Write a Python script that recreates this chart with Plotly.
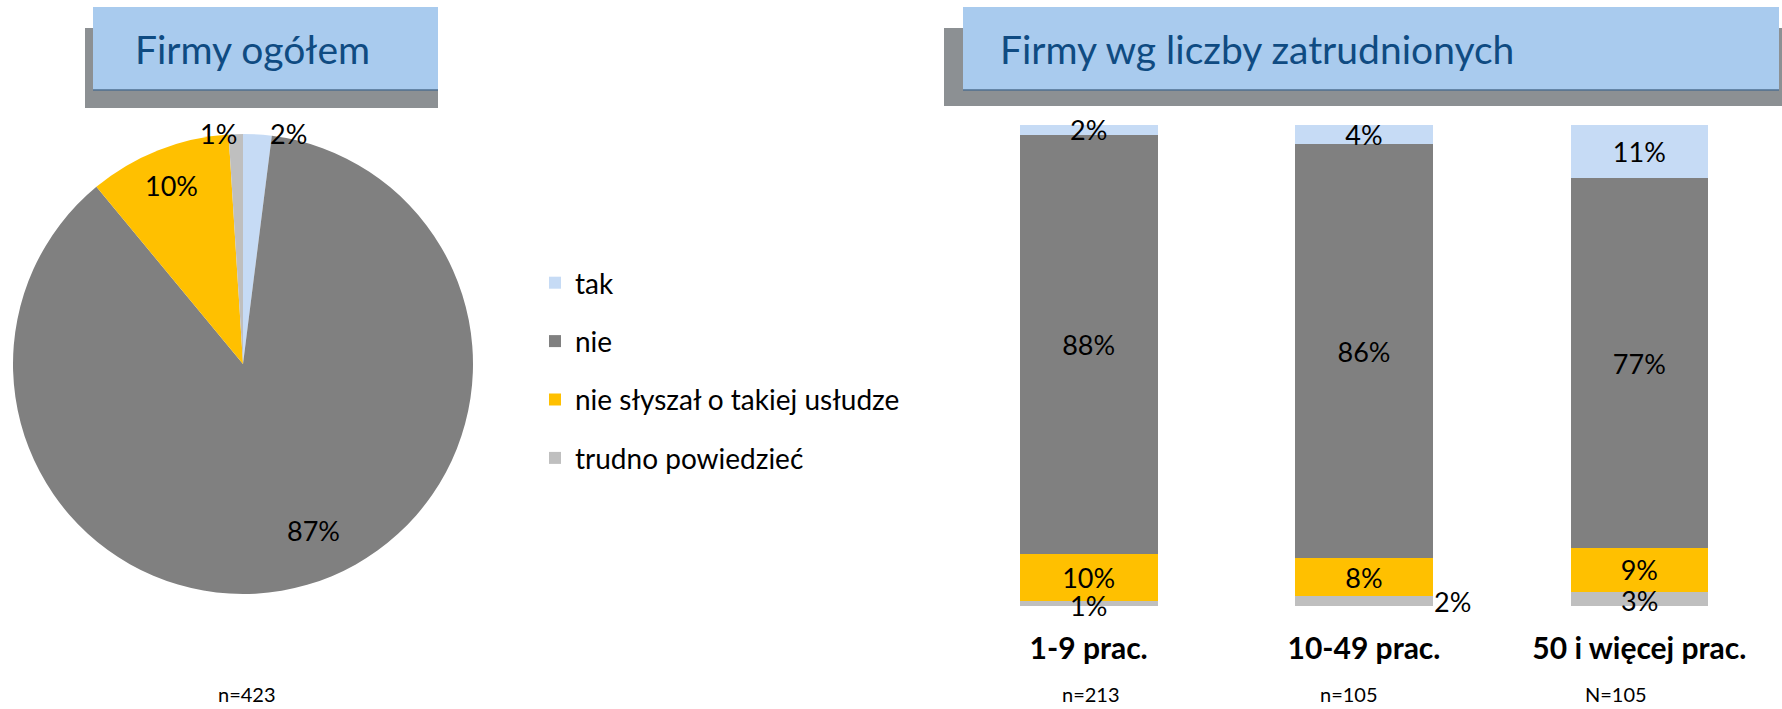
import plotly.graph_objects as go

W, H = 1782, 709
FONT = "Lato, 'Open Sans', 'DejaVu Sans', sans-serif"

# Answer categories and their colours
series = ["tak", "nie", "nie słyszał o takiej usłudze", "trudno powiedzieć"]
colors = ["#C6DBF5", "#808080", "#FFC000", "#BFBFBF"]

# All firms
overall = [2, 87, 10, 1]
overall_n = "n=423"

# Firms by number of employees
size_groups = ["1-9 prac.", "10-49 prac.", "50 i więcej prac."]
size_n = ["n=213", "n=105", "N=105"]
tak = [2, 4, 11]
nie = [88, 86, 77]
nie_slyszal = [10, 8, 9]
trudno = [1, 2, 3]


def px(x):
    return x / W


def py(y):
    return 1 - y / H


fig = go.Figure()

# ---- pie: all firms ----
PIE_X = (13, 473)
PIE_Y = (134, 594)
fig.add_trace(go.Pie(
    labels=series,
    values=overall,
    sort=False,
    direction="clockwise",
    rotation=0,
    marker=dict(colors=colors, line=dict(width=0)),
    textinfo="none",
    domain=dict(x=[px(PIE_X[0]), px(PIE_X[1])], y=[py(PIE_Y[1]), py(PIE_Y[0])]),
    showlegend=False,
    hoverinfo="label+percent",
))

annotations = []
label_font = dict(family=FONT, size=27, color="black")

# pie value labels, placed per slice (pixel positions)
pie_label_pos = [(288, 133), (313, 530), (171, 185), (218, 133)]
for v, (lx, ly) in zip(overall, pie_label_pos):
    annotations.append(dict(x=px(lx), y=py(ly), xref="paper", yref="paper",
                            text=f"{v}%", showarrow=False,
                            xanchor="center", yanchor="middle", font=label_font))

# ---- stacked 100% bars: firms by size ----
by_series = {
    "tak": tak,
    "nie": nie,
    "nie słyszał o takiej usłudze": nie_slyszal,
    "trudno powiedzieć": trudno,
}
totals = [sum(v[i] for v in by_series.values()) for i in range(len(size_groups))]

for name in reversed(series):
    vals = by_series[name]
    col = colors[series.index(name)]
    on_bar = name != "trudno powiedzieć"
    fig.add_trace(go.Bar(
        x=size_groups,
        y=vals,
        name=name,
        legendgroup=name,
        legendrank=series.index(name) + 1,
        marker=dict(color=col, line=dict(width=0)),
        text=[f"{v}%" for v in vals],
        texttemplate="%{text}",
        textposition="inside" if on_bar else "none",
        insidetextanchor="middle",
        constraintext="none",
        textfont=label_font,
        cliponaxis=False,
        hoverinfo="name+y",
    ))

# bottom segment labels drawn above the bars so they are not covered
name = "trudno powiedzieć"
for i, v in enumerate(by_series[name]):
    ymid = (v / 2) / totals[i] * 100
    outside = i == 1
    annotations.append(dict(
        x=size_groups[i], y=ymid, xref="x", yref="y",
        text=f"{v}%", showarrow=False,
        xanchor="left" if outside else "center", yanchor="middle",
        xshift=68 if outside else 0,
        yshift=0 if outside else -2,
        font=label_font,
    ))

# sample sizes
annotations.append(dict(x=px(247), y=py(694), xref="paper", yref="paper",
                        text=overall_n, showarrow=False, xanchor="center", yanchor="middle",
                        font=dict(family=FONT, size=20, color="black")))
for txt, xc in zip(size_n, [1091, 1349, 1616]):
    annotations.append(dict(x=px(xc), y=py(694), xref="paper", yref="paper",
                            text=txt, showarrow=False, xanchor="center", yanchor="middle",
                            font=dict(family=FONT, size=20, color="black")))

# panel titles
title_font = dict(family=FONT, size=39, color="#0F4B82")
annotations.append(dict(x=px(133), y=py(49), xref="paper", yref="paper",
                        text="Firmy ogółem", showarrow=False,
                        xanchor="left", yanchor="middle", font=title_font))
annotations.append(dict(x=px(998), y=py(49), xref="paper", yref="paper",
                        text="Firmy wg liczby zatrudnionych", showarrow=False,
                        xanchor="left", yanchor="middle", font=title_font))


def rect(x0, y0, x1, y1, color):
    return dict(type="rect", xref="paper", yref="paper",
                x0=px(x0), x1=px(x1), y0=py(y1), y1=py(y0),
                fillcolor=color, line=dict(width=0), layer="below")


def hline(x0, x1, y, color):
    return dict(type="line", xref="paper", yref="paper",
                x0=px(x0), x1=px(x1), y0=py(y), y1=py(y),
                line=dict(color=color, width=1.5), layer="below")


shapes = [
    rect(85, 28, 438, 108, "#8C9093"),
    rect(93, 7, 438, 90, "#A9CBEE"),
    hline(93, 438, 90, "#4F6F8F"),
    rect(944, 28, 1782, 106, "#8C9093"),
    rect(963, 7, 1779, 90, "#A9CBEE"),
    hline(963, 1779, 90, "#4F6F8F"),
]

fig.update_layout(
    width=W, height=H,
    margin=dict(l=0, r=0, t=0, b=0),
    paper_bgcolor="white",
    plot_bgcolor="white",
    barmode="stack",
    barnorm="percent",
    bargap=0.5,
    xaxis=dict(
        domain=[px(951), px(1777)],
        showgrid=False, zeroline=False, showline=False,
        ticks="", ticklabelstandoff=22,
        tickfont=dict(family=FONT, size=30, color="black", weight="bold"),
        automargin=False,
        fixedrange=True,
    ),
    yaxis=dict(
        domain=[py(606), py(125)],
        range=[0, 100],
        visible=False,
        fixedrange=True,
    ),
    legend=dict(
        x=px(535), y=py(258), xanchor="left", yanchor="top",
        traceorder="grouped",
        tracegroupgap=19,
        font=dict(family=FONT, size=28, color="black"),
        bgcolor="rgba(0,0,0,0)",
    ),
    annotations=annotations,
    shapes=shapes,
)

fig.write_html("out.html")
